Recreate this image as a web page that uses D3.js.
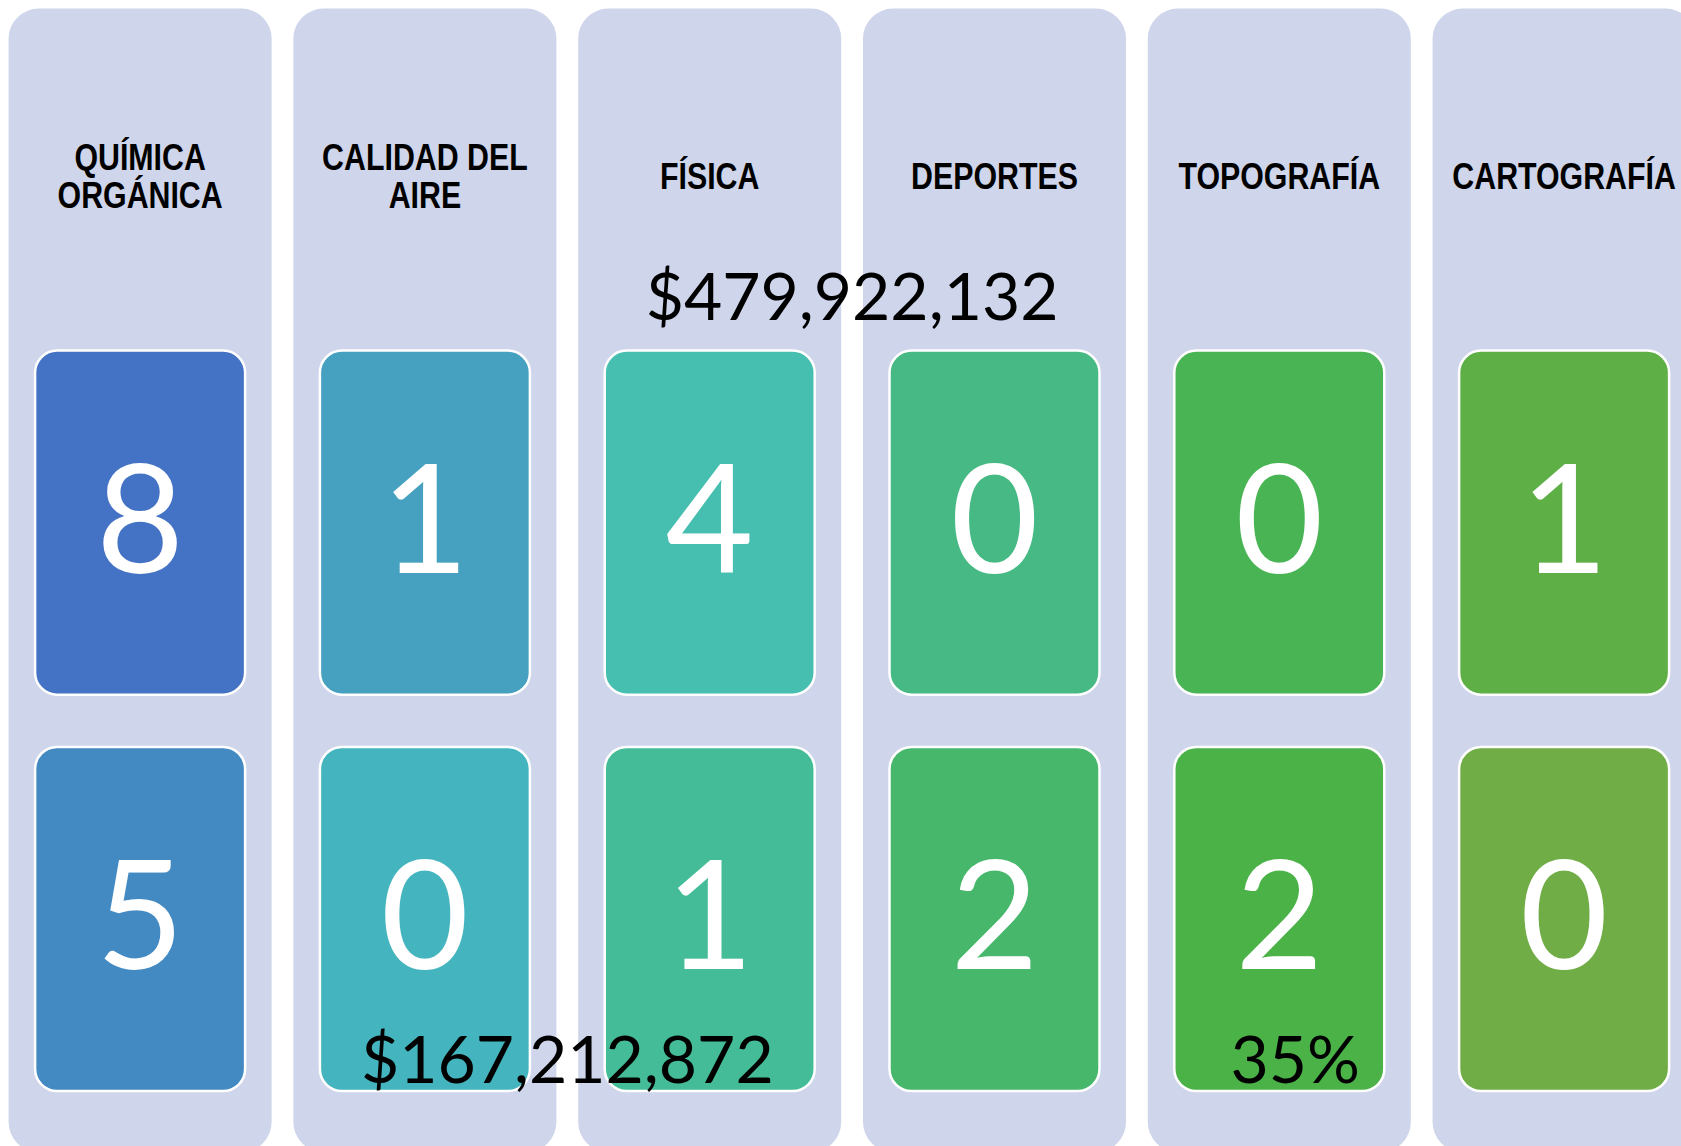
<!DOCTYPE html>
<html>
<head>
<meta charset="utf-8">
<script src="https://cdn.jsdelivr.net/npm/d3@7"></script>
<style>
  body { margin: 0; background: #fff; }
  svg { display: block; }
</style>
</head>
<body>
<svg width="1681" height="1146"></svg>
<script>

// categorías (columnas)
var categorias = [
    ["QUÍMICA", "ORGÁNICA"],
    ["CALIDAD DEL", "AIRE"],
    ["FÍSICA"],
    ["DEPORTES"],
    ["TOPOGRAFÍA"],
    ["CARTOGRAFÍA"]
];

var filas = ["fila1", "fila2"];

// valores de cada fila
var fila1 = [8, 1, 4, 0, 0, 1];
var fila2 = [5, 0, 1, 2, 2, 0];

// textos sueltos sobre el gráfico
var notas = [
    {texto: "$479,922,132", desde: 2, hasta: 3, fila: "fila1", lado: "arriba"},
    {texto: "$167,212,872", desde: 1, hasta: 2, fila: "fila2", lado: "abajo"},
    {texto: "35%", desde: 4, hasta: 4, fila: "fila2", lado: "abajo"}
];

var colores = ["#4472C4", "#4389C2", "#46A0C0", "#44B4BF", "#46BEB0", "#44BC97",
               "#46B984", "#46B76B", "#48B453", "#4BB248", "#5FAF47", "#70AD47"];

var svg = d3.select("svg");

var nombres = categorias.map(function(d) { return d.join(" "); });

var x = d3.scaleBand()
    .domain(nombres)
    .range([8.6, 1695.6])
    .paddingInner(0.0765)
    .paddingOuter(0);

var y = d3.scaleBand()
    .domain(filas)
    .range([350.6, 1091])
    .paddingInner(0.132);

var anchoCaja = 210;

var datos = [];
nombres.forEach(function(n, i) {
    datos.push({cat: n, fila: "fila1", valor: fila1[i], k: i * 2});
    datos.push({cat: n, fila: "fila2", valor: fila2[i], k: i * 2 + 1});
});

// fondo de columnas
svg.selectAll(".columna")
    .data(nombres)
    .enter().append("rect")
    .attr("class", "columna")
    .attr("x", function(d) { return x(d); })
    .attr("y", 8.6)
    .attr("width", x.bandwidth())
    .attr("height", 1146 + 6 - 8.6)
    .attr("rx", 30)
    .attr("fill", "#CFD5EA");

// títulos (estilo Arial Narrow: Liberation Sans estrechada)
var titulos = svg.selectAll(".titulo")
    .data(categorias)
    .enter().append("text")
    .attr("class", "titulo")
    .attr("text-anchor", "middle")
    .attr("fill", "#000")
    .style("font", "bold 37px 'Liberation Sans', Arial, sans-serif")
    .attr("transform", function(d, i) {
        return "translate(" + (x(nombres[i]) + x.bandwidth() / 2) + "," + (176 - (d.length - 1) * 37.5 / 2 + 13) + ") scale(0.82,1)";
    });

titulos.selectAll("tspan")
    .data(function(d) { return d; })
    .enter().append("tspan")
    .attr("x", 0)
    .attr("dy", function(d, i) { return i === 0 ? 0 : 37.5; })
    .text(function(d) { return d; });

// cajas
var cajas = svg.selectAll(".caja")
    .data(datos)
    .enter().append("g")
    .attr("class", "caja")
    .attr("transform", function(d) {
        return "translate(" + (x(d.cat) + x.bandwidth() / 2) + "," + y(d.fila) + ")";
    });

cajas.append("rect")
    .attr("x", -anchoCaja / 2)
    .attr("y", 0)
    .attr("width", anchoCaja)
    .attr("height", y.bandwidth())
    .attr("rx", 22)
    .attr("fill", function(d) { return colores[d.k]; })
    .attr("stroke", "#fff")
    .attr("stroke-width", 2.5);

cajas.append("text")
    .attr("text-anchor", "middle")
    .attr("y", y.bandwidth() / 2 + 50)
    .attr("fill", "#fff")
    .style("font", "152px Lato, 'Open Sans', sans-serif")
    .text(function(d) { return d.valor; });

// notas
svg.selectAll(".nota")
    .data(notas)
    .enter().append("text")
    .attr("class", "nota")
    .attr("text-anchor", "middle")
    .attr("fill", "#000")
    .style("font", "66px Lato, 'Open Sans', sans-serif")
    .attr("x", function(d) {
        var a = x(nombres[d.desde]) + x.bandwidth() / 2,
            b = x(nombres[d.hasta]) + x.bandwidth() / 2;
        return (a + b) / 2 + (d.desde === d.hasta ? 16 : 0);
    })
    .attr("y", function(d) {
        return d.lado === "arriba" ? y(d.fila) - 31 : y(d.fila) + y.bandwidth() - 8;
    })
    .text(function(d) { return d.texto; });

</script>
</body>
</html>
